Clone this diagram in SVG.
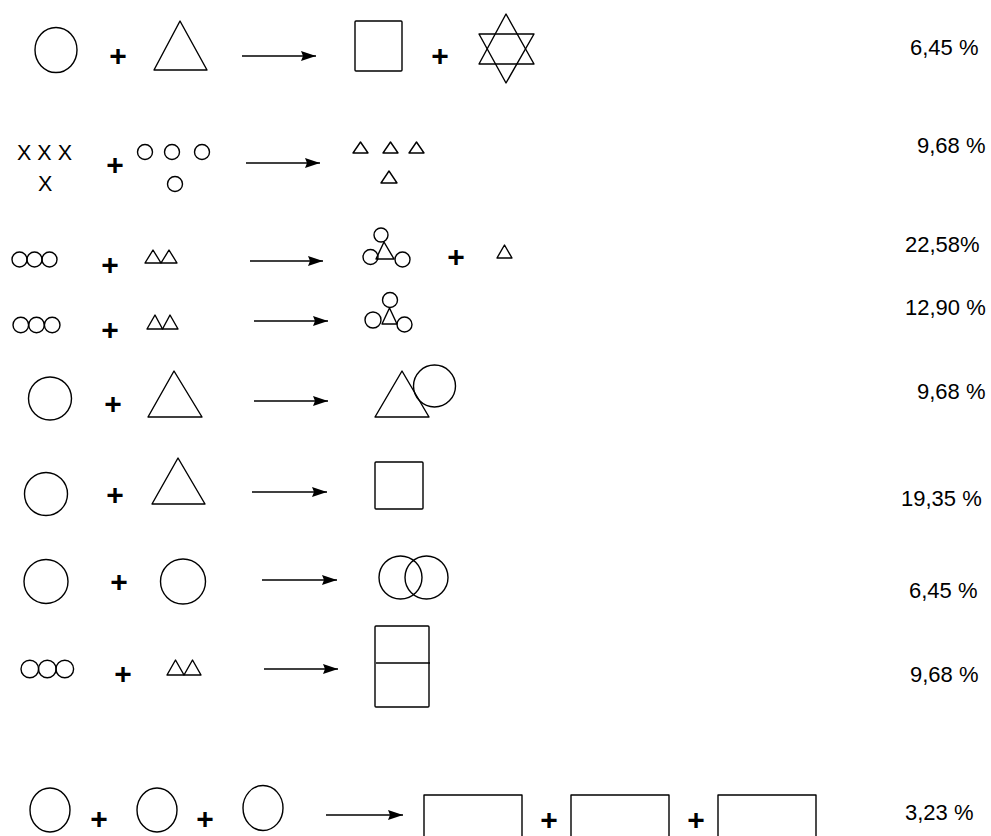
<svg xmlns="http://www.w3.org/2000/svg" width="991" height="836" viewBox="0 0 991 836">
<style>
.s{fill:none;stroke:#000;stroke-width:1.4;stroke-linejoin:round}
.a{fill:none;stroke:#000;stroke-width:1.5}
.p{font-family:"Liberation Sans",Arial,sans-serif;font-weight:bold;font-size:30px;text-anchor:middle;fill:#000}
.t{font-family:"Liberation Sans",Arial,sans-serif;font-size:22px;fill:#000}
.x{font-family:"Liberation Sans",Arial,sans-serif;font-size:21.5px;fill:#000}
</style>
<defs>
<marker id="ah" markerUnits="userSpaceOnUse" markerWidth="16" markerHeight="10" refX="15" refY="5" orient="auto">
<path d="M0,0 L15,5 L0,10 L2,5 Z" fill="#000"/>
</marker>
</defs>
<rect width="991" height="836" fill="#fff"/>

<g id="row1">
<ellipse class="s" cx="56" cy="50" rx="21" ry="22.5"/>
<text class="p" x="118" y="66">+</text>
<polygon class="s" points="180,21 154,70 207,70"/>
<rect class="s" x="355" y="21" width="47" height="50" rx="1"/>
<text class="p" x="440" y="66">+</text>
<polygon class="s" points="506,14 479,64 534,64"/>
<polygon class="s" points="506,83 479,34 534,34"/>
<text class="t" x="910" y="55">6,45 %</text>
</g>

<g id="row2">
<text class="x" x="17" y="160">X X X</text>
<text class="x" x="38" y="191">X</text>
<text class="p" x="115" y="175">+</text>
<circle class="s" cx="145" cy="152" r="7.5"/>
<circle class="s" cx="172" cy="152" r="7.5"/>
<circle class="s" cx="202" cy="152" r="7.5"/>
<circle class="s" cx="175" cy="184" r="7.5"/>
<polygon class="s" points="353,153 360.5,142 368,153"/>
<polygon class="s" points="383,153 390.5,142 398,153"/>
<polygon class="s" points="409,153 416.5,142 424,153"/>
<polygon class="s" points="381,183 389,171 397,183"/>
<text class="t" x="917" y="153">9,68 %</text>
</g>

<g id="row3">
<circle class="s" cx="19.5" cy="259.5" r="7.5"/>
<circle class="s" cx="34.5" cy="259.5" r="7.5"/>
<circle class="s" cx="49.5" cy="259.5" r="7.5"/>
<text class="p" x="110" y="275">+</text>
<polygon class="s" points="145,263 153,250 161,263"/>
<polygon class="s" points="161,263 169,250 177,263"/>
<circle class="s" cx="381" cy="235" r="7"/>
<circle class="s" cx="370.5" cy="257" r="7.5"/>
<polygon class="s" points="376,259 384,242 394,259"/>
<circle class="s" cx="402.5" cy="259.5" r="7.5"/>
<text class="p" x="456" y="266.5">+</text>
<polygon class="s" points="497,258 504.5,245 512,258"/>
<text class="t" x="905" y="252">22,58%</text>
</g>

<g id="row4">
<circle class="s" cx="20.8" cy="325" r="7.8"/>
<circle class="s" cx="36.5" cy="325" r="7.8"/>
<circle class="s" cx="52.2" cy="325" r="7.8"/>
<text class="p" x="110" y="340">+</text>
<polygon class="s" points="147,329 155,315 162.5,329"/>
<polygon class="s" points="162.5,329 170,315 178,329"/>
<circle class="s" cx="390" cy="300" r="7.5"/>
<circle class="s" cx="373" cy="320" r="8"/>
<polygon class="s" points="382,324 389.5,308 397,324"/>
<circle class="s" cx="404.5" cy="324.5" r="7.5"/>
<text class="t" x="905" y="315">12,90 %</text>
</g>

<g id="row5">
<circle class="s" cx="50" cy="398.5" r="21.5"/>
<text class="p" x="113" y="414">+</text>
<polygon class="s" points="174,371 148,417 202,417"/>
<polygon class="s" points="402,371 375,417 429,417"/>
<circle class="s" cx="434.5" cy="386" r="21"/>
<text class="t" x="917" y="399">9,68 %</text>
</g>

<g id="row6">
<circle class="s" cx="46" cy="494" r="21.5"/>
<text class="p" x="115" y="505">+</text>
<polygon class="s" points="178,458 152,504 205,504"/>
<rect class="s" x="375" y="462" width="48" height="47" rx="1"/>
<text class="t" x="901" y="506">19,35 %</text>
</g>

<g id="row7">
<circle class="s" cx="46" cy="581.5" r="22"/>
<text class="p" x="119" y="592">+</text>
<circle class="s" cx="183" cy="581.5" r="22.5"/>
<circle class="s" cx="400.5" cy="577.5" r="21.5"/>
<circle class="s" cx="426.5" cy="577.5" r="21.5"/>
<text class="t" x="909" y="598">6,45 %</text>
</g>

<g id="row8">
<circle class="s" cx="29.8" cy="669" r="8.8"/>
<circle class="s" cx="47.3" cy="669" r="8.8"/>
<circle class="s" cx="64.8" cy="669" r="8.8"/>
<text class="p" x="123" y="684">+</text>
<polygon class="s" points="167,675 175.5,660 184,675"/>
<polygon class="s" points="184,675 192.5,660 201,675"/>
<rect class="s" x="375" y="626" width="54" height="81" rx="1"/>
<line class="s" x1="376" y1="663" x2="430" y2="663"/>
<text class="t" x="910" y="682">9,68 %</text>
</g>

<g id="row9">
<ellipse class="s" cx="50" cy="810" rx="20" ry="22"/>
<text class="p" x="99" y="829">+</text>
<ellipse class="s" cx="157" cy="810" rx="20" ry="22"/>
<text class="p" x="205" y="829">+</text>
<ellipse class="s" cx="263" cy="808" rx="20" ry="22.5"/>
<rect class="s" x="424" y="795" width="98" height="70"/>
<text class="p" x="549" y="830">+</text>
<rect class="s" x="571" y="795" width="98" height="70"/>
<text class="p" x="696" y="830">+</text>
<rect class="s" x="718" y="795" width="98" height="70"/>
<text class="t" x="905" y="820">3,23 %</text>
</g>

<g id="connectors">
<line class="a" x1="242" y1="56" x2="316" y2="56" marker-end="url(#ah)"/>
<line class="a" x1="246" y1="163" x2="320" y2="163" marker-end="url(#ah)"/>
<line class="a" x1="250" y1="261" x2="323" y2="261" marker-end="url(#ah)"/>
<line class="a" x1="254" y1="321" x2="328" y2="321" marker-end="url(#ah)"/>
<line class="a" x1="254" y1="401" x2="328" y2="401" marker-end="url(#ah)"/>
<line class="a" x1="252" y1="492" x2="327" y2="492" marker-end="url(#ah)"/>
<line class="a" x1="262" y1="580" x2="337" y2="580" marker-end="url(#ah)"/>
<line class="a" x1="264" y1="669" x2="338" y2="669" marker-end="url(#ah)"/>
<line class="a" x1="326" y1="815" x2="403" y2="815" marker-end="url(#ah)"/>
</g>
</svg>
